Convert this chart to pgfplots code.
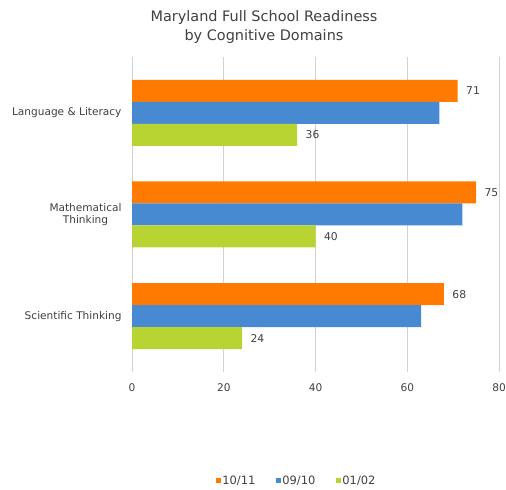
\documentclass[border=0pt]{standalone}
\usepackage{pgfplots}
\pgfplotsset{compat=1.18}
\usepackage{fontspec}
\setmainfont{DejaVu Sans}
\definecolor{cOr}{RGB}{255,122,0}
\definecolor{cBl}{RGB}{72,138,210}
\definecolor{cGr}{RGB}{184,212,50}
\definecolor{txt}{RGB}{64,64,64}
\definecolor{grd}{RGB}{210,210,210}
\begin{document}
\begin{tikzpicture}[x=1bp,y=1bp]
\path[use as bounding box] (0,0) rectangle (506,490);
\node[align=center,text=txt,font=\fontsize{14.5}{18.5}\selectfont] at (264,463) {Maryland Full School Readiness\\by Cognitive Domains};
\begin{axis}[
  at={(132bp,123bp)}, anchor=south west,
  scale only axis, width=367bp, height=305bp,
  xbar, bar width=22bp,
  xmin=0, xmax=80, xtick={0,20,40,60,80},
  ymin=-0.5, ymax=2.5, y dir=reverse,
  ytick={0,1,2},
  yticklabels={Language \& Literacy, Mathematical\\Thinking, Scientific Thinking},
  yticklabel style={align=center, text=txt, font=\fontsize{10.6}{12.5}\selectfont, xshift=-2bp},
  xticklabel style={text=txt, font=\fontsize{10.6}{12.5}\selectfont, yshift=-8bp},
  /pgf/number format/assume math mode=true,
  axis line style={draw=none},
  xmajorgrids, major x grid style={grd, line width=0.8bp},
  tick align=outside, major tick length=5bp,
  xtick style={grd, line width=0.8bp},
  ytick style={draw=none},
  legend style={draw=none, at={(0.448,-0.373)}, anchor=center,
    legend columns=3, font=\fontsize{11.5}{13.5}\selectfont, text=txt,
    nodes={inner xsep=1bp},
    /tikz/every even column/.append style={column sep=20bp}},
  legend image code/.code={\fill[#1] (0bp,-2.5bp) rectangle (5bp,2.5bp);},
  nodes near coords style={text=txt, font=\fontsize{10.8}{12.5}\selectfont, xshift=5bp},
]
\addplot[fill=cOr, draw=none, bar shift=22bp, nodes near coords] coordinates {(71,0) (75,1) (68,2)};
\addplot[fill=cBl, draw=none, bar shift=0bp] coordinates {(67,0) (72,1) (63,2)};
\addplot[fill=cGr, draw=none, bar shift=-22bp, nodes near coords] coordinates {(36,0) (40,1) (24,2)};
\legend{10/11, 09/10, 01/02}
\end{axis}
\end{tikzpicture}
\end{document}
